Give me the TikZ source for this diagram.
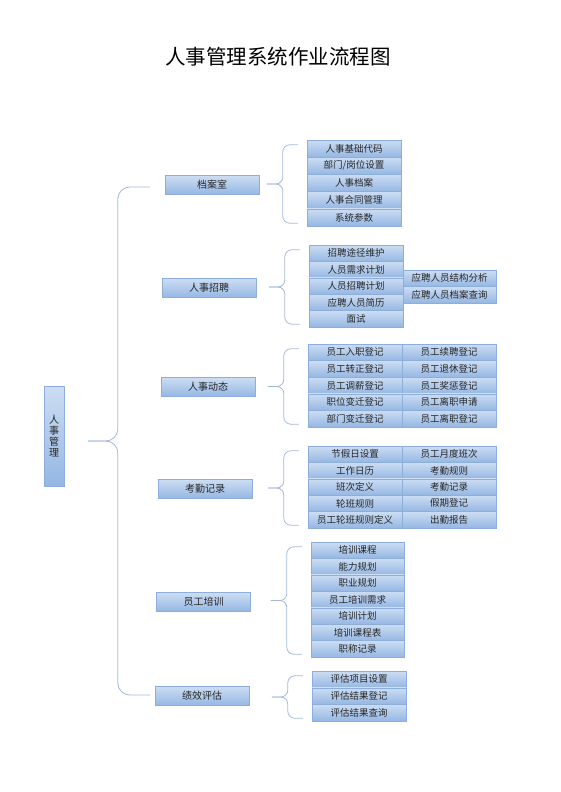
\documentclass[tikz,border=0pt]{standalone}
\usepackage{fontspec}
\setmainfont{Noto Sans CJK SC}
\usetikzlibrary{calc}
\definecolor{my light}{HTML}{CCDDF3}
\definecolor{my dark}{HTML}{95B7E3}
\definecolor{my edge}{HTML}{8DAEDB}
\definecolor{my line}{HTML}{A3B8DD}
\definecolor{my text}{HTML}{262626}
\newcommand{\bracket}[2]{%
  \coordinate (bt) at ($(#1.north west)+(-9,5)$);
  \coordinate (bb) at ($(#2.south west)+(-9,-3)$);
  \coordinate (bm) at ($(bt)!0.5!(bb)+(-15,0)$);
  \draw [brace line] (bt) -- (bm |- bt) -- (bm) -- ++(-16,0);
  \draw [brace line] (bb) -- (bm |- bb) -- (bm) -- ++(-16,0);
}
\begin{document}
\begin{tikzpicture}[x=1pt, y=-1pt,
    box/.style={draw=my edge, top color=my light, bottom color=my dark, inner sep=0pt, text=my text},
    item/.style={box, minimum width=94pt, minimum height=16.6pt, font=\fontsize{9.5}{10}\selectfont},
    group/.style={box, minimum width=94pt, minimum height=19pt, font=\fontsize{10}{11}\selectfont},
    brace line/.style={draw=my line, line width=0.8pt, rounded corners=7pt}]
    \useasboundingbox (0,0) rectangle (560,792);
    \node [font=\fontsize{20.5}{22}\selectfont] (title) at (278,57) {人事管理系统作业流程图};
    \node [box, minimum width=20pt, minimum height=100pt, align=center, font=\fontsize{10}{11}\selectfont] (root) at (54,436) {人\\事\\管\\理};
    \node [group] (dangan) at (212,185) {档案室};
    \node [group] (zhaopin) at (209,288) {人事招聘};
    \node [group] (dongtai) at (208,387) {人事动态};
    \node [group] (kaoqin) at (205,489) {考勤记录};
    \node [group] (peixun) at (203.5,602) {员工培训};
    \node [group] (jixiao) at (202,696) {绩效评估};
    \foreach \t [count=\i] in {人事基础代码,部门/岗位设置,人事档案,人事合同管理,系统参数}
        \node [item, minimum height=17.2pt] (d\i) at (354,{131.4+17.2*\i}) {\t};
    \foreach \t [count=\i] in {招聘途径维护,人员需求计划,人员招聘计划,应聘人员简历,面试}
        \node [item, minimum height=16.4pt] (z\i) at (356,{236.8+16.4*\i}) {\t};
    \foreach \t [count=\i] in {应聘人员结构分析,应聘人员档案查询}
        \node [item, minimum width=93pt, minimum height=16.5pt] (zr\i) at (449.5,{261.75+16.5*\i}) {\t};
    \foreach \t [count=\i] in {员工入职登记,员工转正登记,员工调薪登记,职位变迁登记,部门变迁登记}
        \node [item] (t\i) at (355,{335.7+16.6*\i}) {\t};
    \foreach \t [count=\i] in {员工续聘登记,员工退休登记,员工奖惩登记,员工离职申请,员工离职登记}
        \node [item] (tr\i) at (449,{335.7+16.6*\i}) {\t};
    \foreach \t [count=\i] in {节假日设置,工作日历,班次定义,轮班规则,员工轮班规则定义}
        \node [item, minimum height=16.4pt] (k\i) at (355,{437.8+16.4*\i}) {\t};
    \foreach \t [count=\i] in {员工月度班次,考勤规则,考勤记录,假期登记,出勤报告}
        \node [item, minimum height=16.4pt] (kr\i) at (449,{437.8+16.4*\i}) {\t};
    \foreach \t [count=\i] in {培训课程,能力规划,职业规划,员工培训需求,培训计划,培训课程表,职称记录}
        \node [item, minimum width=93pt, minimum height=16.43pt] (p\i) at (357.5,{533.8+16.43*\i}) {\t};
    \foreach \t [count=\i] in {评估项目设置,评估结果登记,评估结果查询}
        \node [item, minimum height=16.67pt] (j\i) at (359,{662.7+16.67*\i}) {\t};
    \bracket{d1}{d5}
    \bracket{z1}{z5}
    \bracket{t1}{t5}
    \bracket{k1}{k5}
    \bracket{p1}{p7}
    \bracket{j1}{j3}
    \coordinate (mt) at ($(dangan.west)+(-15,2)$);
    \coordinate (mb) at ($(jixiao.west)+(-5,-1)$);
    \coordinate (mm) at ($(mt)!0.5!(mb)+(-32,0)$);
    \draw [brace line, rounded corners=12pt] (mt) -- (mm |- mt) -- (mm) -- ++(-30,0);
    \draw [brace line, rounded corners=12pt] (mb) -- (mm |- mb) -- (mm) -- ++(-30,0);
\end{tikzpicture}
\end{document}
